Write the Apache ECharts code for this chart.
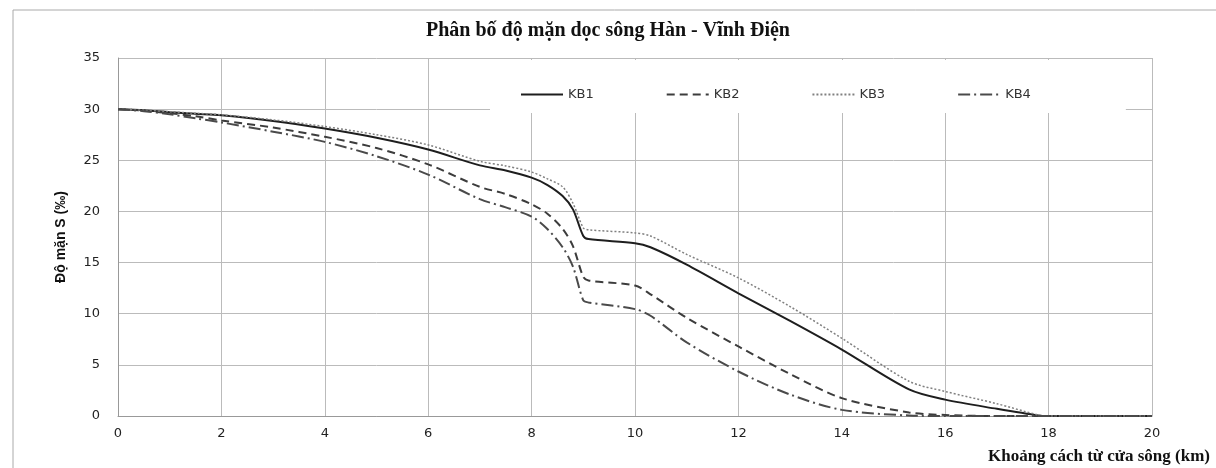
<!DOCTYPE html>
<html>
<head>
<meta charset="utf-8">
<script src="https://cdn.jsdelivr.net/npm/echarts@6/dist/echarts.min.js"></script>
<style>
  html, body { margin: 0; padding: 0; background: #fff; }
  #chart { width: 1216px; height: 468px; }
</style>
</head>
<body>
<div id="chart"></div>
<script>
// khoảng cách từ cửa sông (km)
const distKm = [0, 0.5, 1, 1.5, 2, 3, 4, 5, 6, 7, 7.5, 8, 8.3, 8.6, 8.8, 9.0, 9.1, 10, 10.3, 11, 12, 13, 14, 15.3, 16, 17, 17.8, 18, 19, 20]

// độ mặn (‰) theo từng kịch bản
const kb1 = [30, 29.9, 29.7, 29.55, 29.4, 28.85, 28.1, 27.2, 26.05, 24.5, 24.0, 23.3, 22.6, 21.5, 20.2, 17.6, 17.3, 16.9, 16.5, 14.8, 12.0, 9.3, 6.5, 2.6, 1.6, 0.7, 0.05, 0, 0, 0]
const kb2 = [30, 29.85, 29.6, 29.3, 28.9, 28.2, 27.3, 26.2, 24.6, 22.4, 21.7, 20.7, 19.8, 18.3, 16.6, 13.6, 13.25, 12.75, 11.9, 9.6, 6.8, 4.1, 1.75, 0.35, 0.1, 0, 0, 0, 0, 0]
const kb3 = [30, 29.9, 29.75, 29.6, 29.45, 28.95, 28.3, 27.5, 26.5, 24.9, 24.45, 23.85, 23.2, 22.4, 20.8, 18.4, 18.2, 17.9, 17.6, 15.8, 13.5, 10.7, 7.6, 3.4, 2.4, 1.2, 0.1, 0, 0, 0]
const kb4 = [30, 29.8, 29.5, 29.1, 28.7, 27.8, 26.8, 25.4, 23.6, 21.2, 20.4, 19.5, 18.3, 16.5, 14.6, 11.3, 11.1, 10.45, 9.8, 7.2, 4.35, 2.1, 0.6, 0.05, 0, 0, 0, 0, 0, 0]

const seriesNames = ['KB1', 'KB2', 'KB3', 'KB4']

const pairs = (ys) => distKm.map((x, i) => [x, ys[i]])

const chart = echarts.init(document.getElementById('chart'))

const lineSeries = (name, ys, color, width, type) => ({
  name,
  type: 'line',
  data: pairs(ys),
  smooth: 0.3,
  symbol: 'none',
  lineStyle: { color, width, type },
  itemStyle: { color }
})

const option = {
  animation: false,
  title: {
    text: 'Phân bố độ mặn dọc sông Hàn - Vĩnh Điện',
    left: 'center',
    top: 16,
    textStyle: { fontFamily: 'Liberation Serif', fontWeight: 'bold', fontSize: 20, color: '#111' }
  },
  legend: {
    data: seriesNames,
    left: 490,
    top: 60,
    z: 20,
    padding: [28, 95, 12, 30],
    backgroundColor: '#fff',
    itemWidth: 42,
    itemHeight: 14,
    itemGap: 72,
    itemStyle: { color: 'transparent', borderWidth: 0 },
    textStyle: { fontFamily: 'DejaVu Sans', fontSize: 13, color: '#333' }
  },
  grid: {
    left: 118,
    right: 64,
    top: 58,
    bottom: 52
  },
  xAxis: {
    type: 'value',
    min: 0,
    max: 20,
    interval: 2,
    name: 'Khoảng cách từ cửa sông (km)',
    nameLocation: 'end',
    nameGap: 58,
    nameTextStyle: {
      fontFamily: 'Liberation Serif', fontWeight: 'bold', fontSize: 17, color: '#111',
      align: 'right', verticalAlign: 'top', padding: [32, 0, 0, 0]
    },
    axisLine: { lineStyle: { color: '#999' } },
    axisTick: { show: false },
    axisLabel: { margin: 11, fontFamily: 'DejaVu Sans', fontSize: 13, color: '#222' },
    splitLine: { lineStyle: { color: '#bbb' } }
  },
  yAxis: {
    type: 'value',
    min: 0,
    max: 35,
    interval: 5,
    name: 'Độ mặn S (‰)',
    nameLocation: 'middle',
    nameGap: 50,
    nameTextStyle: { fontFamily: 'Liberation Sans Narrow, Liberation Sans', fontWeight: 'bold', fontSize: 14, color: '#111' },
    axisLine: { show: true, lineStyle: { color: '#999' } },
    axisTick: { show: false },
    axisLabel: { margin: 18, fontFamily: 'DejaVu Sans', fontSize: 13, color: '#222' },
    splitLine: { lineStyle: { color: '#bbb' } }
  },
  graphic: [
    { type: 'line', shape: { x1: 13, y1: 10, x2: 1216, y2: 10 }, style: { stroke: '#aaa', lineWidth: 1 } },
    { type: 'line', shape: { x1: 13, y1: 10, x2: 13, y2: 468 }, style: { stroke: '#aaa', lineWidth: 1 } }
  ],
  series: [
    lineSeries('KB1', kb1, '#1e1e1e', 2, 'solid'),
    lineSeries('KB2', kb2, '#3c3c3c', 2, [8, 5]),
    lineSeries('KB3', kb3, '#808080', 1.5, [2, 2]),
    lineSeries('KB4', kb4, '#4a4a4a', 2, [12, 4, 2, 4])
  ]
}

chart.setOption(option)
</script>
</body>
</html>
